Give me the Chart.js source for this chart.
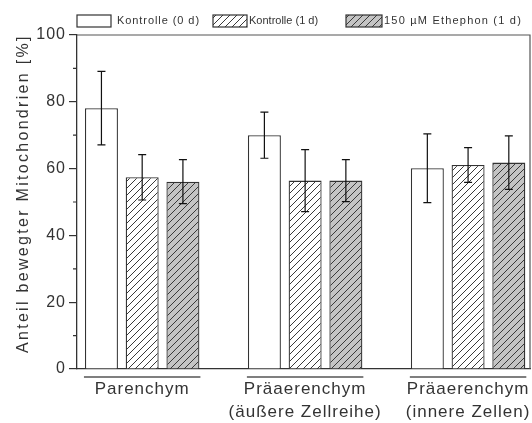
<!DOCTYPE html>
<html>
<head>
<meta charset="utf-8">
<script src="https://cdn.jsdelivr.net/npm/chart.js@4.4.1/dist/chart.umd.min.js"></script>
<style>
  html, body { margin: 0; padding: 0; background: #fff; }
  #wrap { width: 532px; height: 423px; }
</style>
</head>
<body>
<div id="wrap"><canvas id="c"></canvas></div>
<script>
// data
const groups = [['Parenchym'], ['Präaerenchym', '(äußere Zellreihe)'], ['Präaerenchym', '(innere Zellen)']];
const groupPos = [1, 2, 3];
const seriesNames = ['Kontrolle (0 d)', 'Kontrolle (1 d)', '150 µM Ethephon (1 d)'];
const kontrolle0 = [78.1, 70.0, 60.1];
const kontrolle0Err = [11.0, 6.9, 10.3];
const kontrolle1 = [57.4, 56.4, 61.1];
const kontrolle1Err = [6.8, 9.3, 5.2];
const ethephon = [56.1, 56.4, 61.8];
const ethephonErr = [6.6, 6.3, 8.0];
const yTicks = [0, 20, 40, 60, 80, 100];
const yTitle = 'Anteil bewegter Mitochondrien [%]';

const FONT = "'Liberation Sans', Arial, sans-serif";
const INK = '#333';

function hatch(bg) {
  const c = document.createElement('canvas');
  c.width = 7; c.height = 7;
  const g = c.getContext('2d');
  g.fillStyle = bg;
  g.fillRect(0, 0, 7, 7);
  g.strokeStyle = '#3a3a3a';
  g.lineWidth = 1;
  g.beginPath();
  g.moveTo(0, 7); g.lineTo(7, 0);
  g.moveTo(-1, 1); g.lineTo(1, -1);
  g.moveTo(6, 8); g.lineTo(8, 6);
  g.stroke();
  return g.createPattern(c, 'repeat');
}

const fills = ['#ffffff', hatch('#ffffff'), hatch('#c4c4c4')];
const values = [kontrolle0, kontrolle1, ethephon];
const errors = [kontrolle0Err, kontrolle1Err, ethephonErr];

const datasets = values.map((vals, k) => ({
  label: seriesNames[k],
  data: vals.map((v, i) => ({ x: groupPos[i], y: v })),
  errs: errors[k],
  backgroundColor: fills[k],
  borderColor: INK,
  borderWidth: 1.3,
  categoryPercentage: 0.75,
  barPercentage: 0.81
}));

// draw text spread to a given width (legend labels are spaced unevenly in the original)
function spacedText(ctx, text, x, y, width) {
  ctx.letterSpacing = '0px';
  const w = ctx.measureText(text).width;
  const ls = Math.max(0, (width - w) / text.length);
  ctx.letterSpacing = ls + 'px';
  ctx.fillText(text, x, y);
  ctx.letterSpacing = '0px';
}

const legendBoxes = [[77, 111, 117, 200], [213, 247, 249, 308], [346, 382, 384, 522]];

const decor = {
  id: 'decor',
  beforeDraw(chart) {
    chart.ctx.letterSpacing = '1px';
  },
  afterDatasetsDraw(chart) {
    const ctx = chart.ctx;
    const y = chart.scales.y;
    ctx.save();
    ctx.strokeStyle = '#111';
    ctx.lineWidth = 1.2;
    chart.data.datasets.forEach((ds, k) => {
      const meta = chart.getDatasetMeta(k);
      meta.data.forEach((bar, i) => {
        const v = ds.data[i].y, e = ds.errs[i];
        const y1 = y.getPixelForValue(v + e), y2 = y.getPixelForValue(v - e);
        ctx.beginPath();
        ctx.moveTo(bar.x, y1); ctx.lineTo(bar.x, y2);
        ctx.moveTo(bar.x - 4, y1); ctx.lineTo(bar.x + 4, y1);
        ctx.moveTo(bar.x - 4, y2); ctx.lineTo(bar.x + 4, y2);
        ctx.stroke();
      });
    });
    ctx.restore();
  },
  afterDraw(chart) {
    const ctx = chart.ctx;
    const a = chart.chartArea;
    const y = chart.scales.y;
    ctx.save();
    // frame top and right
    ctx.strokeStyle = '#555';
    ctx.lineWidth = 1.2;
    ctx.beginPath();
    ctx.moveTo(a.left, a.top); ctx.lineTo(a.right, a.top); ctx.lineTo(a.right, a.bottom);
    ctx.stroke();
    // minor ticks
    ctx.strokeStyle = INK;
    ctx.beginPath();
    for (let i = 0; i < yTicks.length - 1; i++) {
      const py = y.getPixelForValue((yTicks[i] + yTicks[i + 1]) / 2);
      ctx.moveTo(a.left - 4, py); ctx.lineTo(a.left, py);
    }
    ctx.stroke();
    // group underlines
    const first = chart.getDatasetMeta(0), last = chart.getDatasetMeta(chart.data.datasets.length - 1);
    ctx.strokeStyle = '#555';
    ctx.lineWidth = 1.5;
    ctx.beginPath();
    first.data.forEach((bar, i) => {
      const b2 = last.data[i];
      ctx.moveTo(bar.x - bar.width / 2 - 1, a.bottom + 8);
      ctx.lineTo(b2.x + b2.width / 2 + 1, a.bottom + 8);
    });
    ctx.stroke();
    // y title
    ctx.fillStyle = INK;
    ctx.font = '16px ' + FONT;
    ctx.letterSpacing = '2.3px';
    ctx.textAlign = 'center';
    ctx.textBaseline = 'middle';
    ctx.translate(24, a.top + (a.bottom - a.top) * 0.475);
    ctx.rotate(-Math.PI / 2);
    ctx.fillText(yTitle, 0, 0);
    ctx.restore();
    // legend
    ctx.save();
    ctx.font = '11px ' + FONT;
    ctx.textBaseline = 'middle';
    ctx.textAlign = 'left';
    chart.data.datasets.forEach((ds, k) => {
      const [b0, b1, t0, t1] = legendBoxes[k];
      ctx.fillStyle = ds.backgroundColor;
      ctx.fillRect(b0, 15, b1 - b0, 12);
      ctx.strokeStyle = INK;
      ctx.lineWidth = 1.2;
      ctx.strokeRect(b0, 15, b1 - b0, 12);
      ctx.fillStyle = INK;
      spacedText(ctx, ds.label, t0, 21, t1 - t0);
    });
    ctx.restore();
  }
};

new Chart(document.getElementById('c'), {
  type: 'bar',
  data: { datasets },
  options: {
    responsive: true,
    maintainAspectRatio: false,
    animation: false,
    layout: { padding: { top: 35, right: 2, left: 0, bottom: 0 } },
    plugins: { legend: { display: false }, tooltip: { enabled: false } },
    scales: {
      x: {
        type: 'linear',
        min: 0.6,
        max: 3.38,
        offset: false,
        grid: { display: false, drawTicks: false, offset: false },
        border: { display: true, color: INK, width: 1.3 },
        afterBuildTicks: (s) => { s.ticks = groupPos.map(v => ({ value: v })); },
        afterFit: (s) => { s.height = 54; },
        ticks: {
          autoSkip: false,
          maxRotation: 0,
          padding: 8,
          color: INK,
          font: { family: FONT, size: 17, lineHeight: 1.4 },
          callback: (v) => groups[groupPos.indexOf(v)]
        }
      },
      y: {
        min: 0,
        max: 100,
        afterBuildTicks: (s) => { s.ticks = yTicks.map(v => ({ value: v })); },
        afterFit: (s) => { s.width = 77; },
        grid: { drawOnChartArea: false, drawTicks: true, tickLength: 8, color: INK, lineWidth: 1.2 },
        border: { display: true, color: INK, width: 1.3 },
        ticks: {
          padding: 3,
          color: INK,
          font: { family: FONT, size: 16 }
        }
      }
    }
  },
  plugins: [decor]
});
</script>
</body>
</html>
